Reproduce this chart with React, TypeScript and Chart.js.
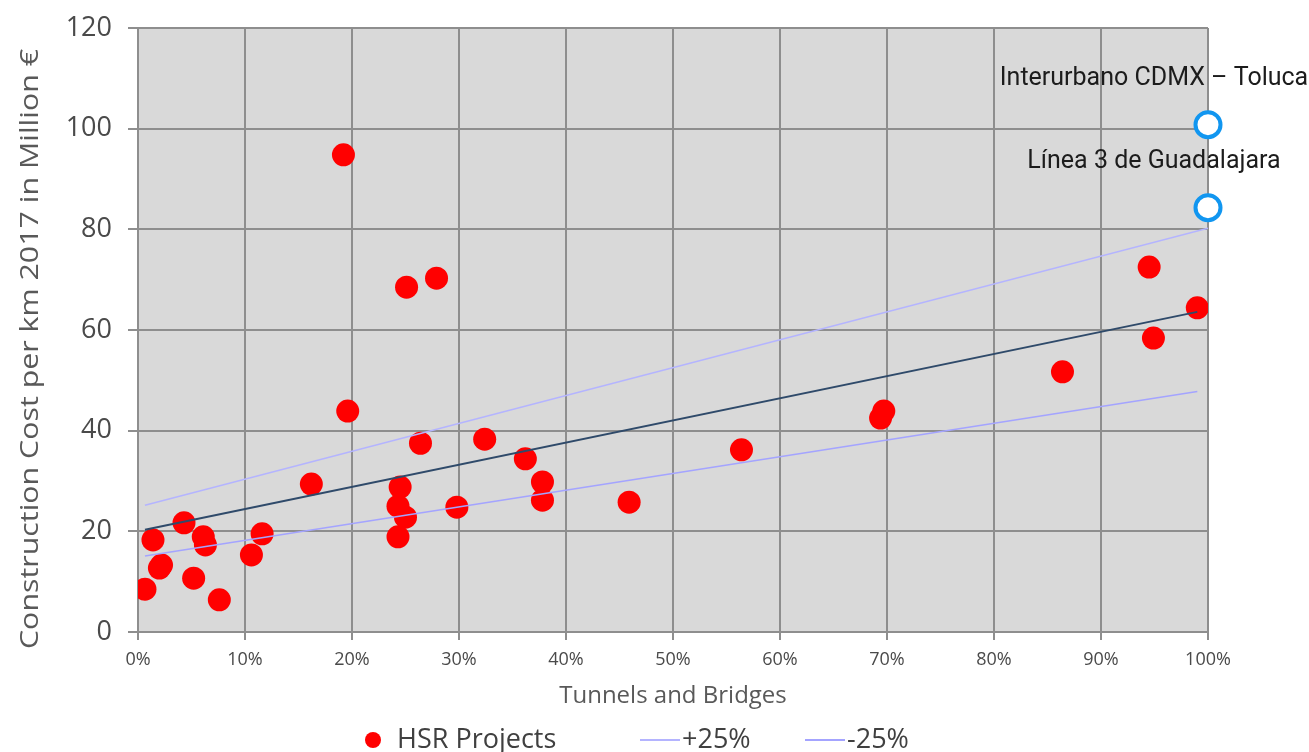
import React, { useEffect, useRef } from "react";
import { Chart, registerables } from "chart.js";

Chart.register(...registerables);

// Share of tunnels and bridges (%) for each HSR project
const projectShare: number[] = [
  0.65, 1.4, 2.0, 2.2, 4.3, 5.2, 6.1, 6.3, 7.6, 10.6, 11.6, 16.2, 19.2, 19.6,
  24.3, 24.3, 24.5, 25.0, 25.1, 26.4, 27.9, 29.8, 32.4, 36.2, 37.8, 37.8, 45.9,
  56.4, 69.4, 69.7, 86.4, 94.5, 94.9, 99.0,
];
// Construction cost per km (2017, million €)
const projectCost: number[] = [
  8.5, 18.3, 12.7, 13.3, 21.7, 10.7, 18.9, 17.3, 6.4, 15.3, 19.5, 29.4, 94.8,
  43.9, 18.9, 25.0, 28.8, 22.8, 68.5, 37.5, 70.3, 24.8, 38.3, 34.4, 29.8, 26.2,
  25.8, 36.2, 42.5, 43.9, 51.7, 72.5, 58.4, 64.4,
];

// Trend line and ±25% band end points
const trendX: number[] = [0.65, 99];
const trendY: number[] = [20.3, 63.6];
const plusX: number[] = [0.65, 100];
const plusY: number[] = [25.2, 80.2];
const minusX: number[] = [0.65, 99];
const minusY: number[] = [15.1, 47.8];

// Highlighted Mexican projects
const mxNames: string[] = ["Interurbano CDMX – Toluca", "Línea 3 de Guadalajara"];
const mxShare: number[] = [100, 100];
const mxCost: number[] = [100.8, 84.3];

const yTicks: number[] = [0, 20, 40, 60, 80, 100, 120];
const xTicks: number[] = [0, 10, 20, 30, 40, 50, 60, 70, 80, 90, 100];

const yTitle = "Construction Cost per km 2017 in Million €";
const xTitle = "Tunnels and Bridges";

const legendItems = [
  { label: "HSR Projects", kind: "dot", color: "#ff0000" },
  { label: "+25%", kind: "line", color: "#b4b4ff" },
  { label: "-25%", kind: "line", color: "#a4a4ff" },
];

const toPts = (xs: number[], ys: number[]) => xs.map((x, i) => ({ x, y: ys[i] }));

const AXIS_FONT = "'Open Sans', sans-serif";
const GRID = "#8e8e8e";
const TEXT = "#4a4a4a";

export default function App() {
  const ref = useRef<HTMLCanvasElement | null>(null);

  useEffect(() => {
    if (!ref.current) return;

    const bgPlugin = {
      id: "plotBg",
      beforeDraw(chart: any) {
        const { ctx, chartArea } = chart;
        ctx.save();
        ctx.fillStyle = "#d9d9d9";
        ctx.fillRect(chartArea.left, chartArea.top, chartArea.right - chartArea.left, chartArea.bottom - chartArea.top);
        ctx.restore();
      },
    };

    const yTitlePlugin = {
      id: "yTitle",
      afterDraw(chart: any) {
        const { ctx, chartArea } = chart;
        ctx.save();
        ctx.font = `25px ${AXIS_FONT}`;
        ctx.fillStyle = "#595959";
        ctx.textAlign = "center";
        ctx.textBaseline = "middle";
        const w = ctx.measureText(yTitle).width;
        const target = 600;
        ctx.translate(31, (chartArea.top + chartArea.bottom) / 2 + 19);
        ctx.rotate(-Math.PI / 2);
        ctx.scale(target / w, 1);
        ctx.fillText(yTitle, 0, 0);
        ctx.restore();
      },
    };

    const labelPlugin = {
      id: "mxLabels",
      afterDatasetsDraw(chart: any) {
        const { ctx } = chart;
        const meta = chart.getDatasetMeta(4);
        ctx.save();
        ctx.font = "25px Roboto, sans-serif";
        ctx.fillStyle = "#1c1c1c";
        ctx.textAlign = "center";
        ctx.textBaseline = "middle";
        meta.data.forEach((el: any, i: number) => {
          ctx.fillText(mxNames[i], el.x - 54, el.y - 46);
        });
        ctx.restore();
      },
    };

    const legendPlugin = {
      id: "customLegend",
      afterDraw(chart: any) {
        const { ctx, chartArea } = chart;
        const cy = 740;
        const starts = [chartArea.left + 235, chartArea.left + 502, chartArea.left + 667];
        ctx.save();
        ctx.font = `27px ${AXIS_FONT}`;
        ctx.textBaseline = "middle";
        ctx.textAlign = "left";
        legendItems.forEach((it, i) => {
          const x = starts[i];
          if (it.kind === "dot") {
            ctx.fillStyle = it.color;
            ctx.beginPath();
            ctx.arc(x, cy, 8, 0, Math.PI * 2);
            ctx.fill();
            ctx.fillStyle = "#404040";
            ctx.fillText(it.label, x + 24, cy);
          } else {
            ctx.strokeStyle = it.color;
            ctx.lineWidth = 2;
            ctx.beginPath();
            ctx.moveTo(x, cy);
            ctx.lineTo(x + 40, cy);
            ctx.stroke();
            ctx.fillStyle = "#404040";
            ctx.fillText(it.label, x + 42, cy);
          }
        });
        ctx.restore();
      },
    };

    const chart = new Chart(ref.current, {
      type: "scatter",
      data: {
        datasets: [
          {
            label: "HSR Projects",
            data: toPts(projectShare, projectCost),
            backgroundColor: "#ff0000",
            borderWidth: 0,
            pointRadius: 11.5,
            order: 1,
          } as any,
          {
            label: "Trend",
            type: "line",
            data: toPts(trendX, trendY),
            borderColor: "#2f4a6a",
            borderWidth: 2,
            pointRadius: 0,
            fill: false,
            order: 0,
          } as any,
          {
            label: "+25%",
            type: "line",
            data: toPts(plusX, plusY),
            borderColor: "#b4b4ff",
            borderWidth: 1.5,
            pointRadius: 0,
            fill: false,
            order: 0,
          } as any,
          {
            label: "-25%",
            type: "line",
            data: toPts(minusX, minusY),
            borderColor: "#a4a4ff",
            borderWidth: 1.5,
            pointRadius: 0,
            fill: false,
            order: 0,
          } as any,
          {
            label: "Mexico",
            data: toPts(mxShare, mxCost),
            backgroundColor: "#ffffff",
            borderColor: "#1196f0",
            borderWidth: 4,
            pointRadius: 12.5,
            clip: false,
            order: -1,
          } as any,
        ],
      },
      options: {
        animation: false,
        responsive: true,
        maintainAspectRatio: false,
        layout: { padding: { top: 28, right: 101, left: 0, bottom: 0 } },
        plugins: {
          legend: { display: false },
          tooltip: { enabled: false },
          title: { display: false },
        },
        scales: {
          x: {
            type: "linear",
            min: 0,
            max: 100,
            afterFit(scale: any) {
              scale.height = 120;
            },
            afterBuildTicks(scale: any) {
              scale.ticks = xTicks.map((v) => ({ value: v }));
            },
            ticks: {
              callback: (v: any) => `${v}%`,
              font: { family: AXIS_FONT, size: 18 },
              color: TEXT,
              padding: 9,
              maxRotation: 0,
            },
            grid: { color: GRID, lineWidth: 2, tickLength: 8 },
            border: { color: GRID, width: 2 },
            title: {
              display: true,
              text: xTitle,
              font: { family: AXIS_FONT, size: 24 },
              color: "#595959",
              padding: { top: 0, bottom: 41 },
            },
          },
          y: {
            min: 0,
            max: 120,
            afterFit(scale: any) {
              scale.width = 138;
            },
            afterBuildTicks(scale: any) {
              scale.ticks = yTicks.map((v) => ({ value: v }));
            },
            ticks: {
              font: { family: AXIS_FONT, size: 27, lineHeight: 0.5 },
              color: TEXT,
              padding: 16,
            },
            grid: { color: GRID, lineWidth: 2, tickLength: 10 },
            border: { color: GRID, width: 2 },
            title: { display: false },
          },
        },
      } as any,
      plugins: [bgPlugin, labelPlugin, legendPlugin, yTitlePlugin],
    });

    return () => chart.destroy();
  }, []);

  return (
    <div style={{ position: "fixed", left: 0, top: 0, width: 1309, height: 752, background: "#fff" }}>
      <canvas ref={ref} />
    </div>
  );
}
